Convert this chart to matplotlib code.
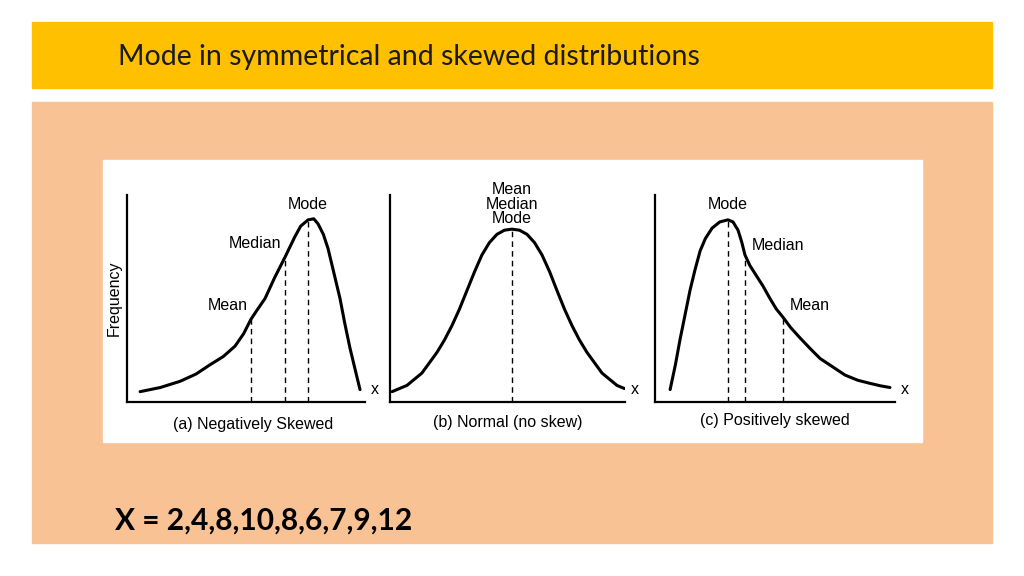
import matplotlib.pyplot as plt
from matplotlib.patches import Rectangle

W, H = 1024, 576

# curve samples (x 0..10, frequency 0..1)
neg_x = [0.55, 1.40, 2.23, 2.90, 3.49, 4.05, 4.54, 4.90, 5.21, 5.50, 5.80, 6.20, 6.64, 6.85, 7.06, 7.30,
         7.61, 7.85, 8.03, 8.25, 8.45, 8.70, 8.95, 9.15, 9.37, 9.60, 9.79]
neg_y = [0.05, 0.07, 0.10, 0.135, 0.18, 0.22, 0.27, 0.33, 0.40, 0.45, 0.50, 0.60, 0.70, 0.75, 0.80, 0.85,
         0.88, 0.885, 0.86, 0.81, 0.74, 0.62, 0.50, 0.38, 0.26, 0.15, 0.06]
norm_x = [0.09, 0.40, 0.72, 1.04, 1.36, 1.68, 2.00, 2.32, 2.64, 2.96, 3.28, 3.60, 3.91, 4.23, 4.55, 4.87,
          5.19, 5.51, 5.83, 6.15, 6.47, 6.79, 7.10, 7.42, 7.74, 8.06, 8.38, 8.70, 9.02, 9.34, 9.66, 9.98]
norm_y = [0.05, 0.065, 0.08, 0.11, 0.14, 0.19, 0.24, 0.30, 0.37, 0.45, 0.54, 0.63, 0.71, 0.77, 0.81, 0.83,
          0.835, 0.83, 0.81, 0.77, 0.71, 0.63, 0.54, 0.45, 0.37, 0.30, 0.24, 0.19, 0.14, 0.11, 0.08, 0.065]
pos_x = [0.63, 0.85, 1.04, 1.25, 1.46, 1.67, 1.88, 2.10, 2.38, 2.70, 3.04, 3.25, 3.46, 3.62, 3.75, 3.95,
         4.17, 4.50, 4.79, 5.05, 5.33, 5.65, 6.04, 6.45, 6.88, 7.40, 7.92, 8.45, 8.96, 9.40, 9.79]
pos_y = [0.06, 0.18, 0.30, 0.42, 0.54, 0.64, 0.73, 0.79, 0.84, 0.87, 0.88, 0.87, 0.83, 0.77, 0.71, 0.66,
         0.62, 0.56, 0.50, 0.45, 0.41, 0.36, 0.31, 0.26, 0.21, 0.17, 0.13, 0.105, 0.09, 0.078, 0.07]

# dashed markers: (label, x, height)
neg_marks = [("Mean", 5.21, 0.40), ("Median", 6.64, 0.70), ("Mode", 7.61, 0.88)]
norm_marks = [("Mean\nMedian\nMode", 5.19, 0.83)]
pos_marks = [("Mode", 3.04, 0.88), ("Median", 3.75, 0.70), ("Mean", 5.33, 0.41)]

captions = ["(a) Negatively Skewed", "(b) Normal (no skew)", "(c) Positively skewed"]
data_line = "X = 2,4,8,10,8,6,7,9,12"

FS = 11.5
FAM = "Liberation Sans"

fig = plt.figure(figsize=(10.24, 5.76), dpi=100)
bg = fig.add_axes([0, 0, 1, 1])
bg.set_xlim(0, W); bg.set_ylim(H, 0); bg.axis("off")
bg.add_patch(Rectangle((32, 22), 960, 66, color="#FFC000"))
bg.add_patch(Rectangle((32, 102), 960, 441, color="#F8C294"))
bg.add_patch(Rectangle((103, 160), 819, 282, color="white"))
bg.text(118, 57, "Mode in symmetrical and skewed distributions", fontsize=20.5,
        family="Lato", va="center", color="#1a1a1a")
bg.text(115, 521, data_line, fontsize=21.5, family="Lato", weight="bold", va="center")

panels = [(127, 365, neg_x, neg_y, neg_marks, 424),
          (390, 625, norm_x, norm_y, norm_marks, 422),
          (655, 895, pos_x, pos_y, pos_marks, 420)]

for i, (l, r, xs, ys, marks, cy) in enumerate(panels):
    ax = fig.add_axes([l / W, 1 - 402 / H, (r - l) / W, 207 / H])
    ax.set_xlim(0, 10); ax.set_ylim(0, 1)
    ax.patch.set_alpha(0)
    for s in ["top", "right"]:
        ax.spines[s].set_visible(False)
    for s in ["left", "bottom"]:
        ax.spines[s].set_linewidth(1.6)
    ax.set_xticks([]); ax.set_yticks([])
    ax.plot(xs, ys, color="black", lw=2.2, solid_capstyle="round", solid_joinstyle="round")
    for lab, mx, mh in marks:
        ax.plot([mx, mx], [0, mh], color="black", lw=1, ls=(0, (4, 3)))
    ax.text(10.25, 0.06, "x", fontsize=FS, family=FAM, va="center")
    if i == 0:
        ax.set_ylabel("Frequency", fontsize=FS, family=FAM, labelpad=4)
        for lab, mx, mh in marks:
            if lab == "Mode":
                ax.text(mx, mh + 0.04, lab, ha="center", va="bottom", fontsize=FS, family=FAM)
            else:
                ax.text(mx - 0.15, mh + 0.03, lab, ha="right", va="bottom", fontsize=FS, family=FAM)
    elif i == 1:
        lab, mx, mh = marks[0]
        ax.text(mx, mh + 0.02, lab, ha="center", va="bottom", fontsize=FS,
                family=FAM, linespacing=0.95, clip_on=False)
    else:
        for lab, mx, mh in marks:
            if lab == "Mode":
                ax.text(mx, mh + 0.04, lab, ha="center", va="bottom", fontsize=FS, family=FAM)
            else:
                ax.text(mx + 0.3, mh + 0.02, lab, ha="left", va="bottom", fontsize=FS, family=FAM)
    bg.text((l + r) / 2 + (0 if i else 7), cy, captions[i], ha="center", va="center",
            fontsize=FS, family=FAM)

fig.savefig("out.png", dpi=100)
